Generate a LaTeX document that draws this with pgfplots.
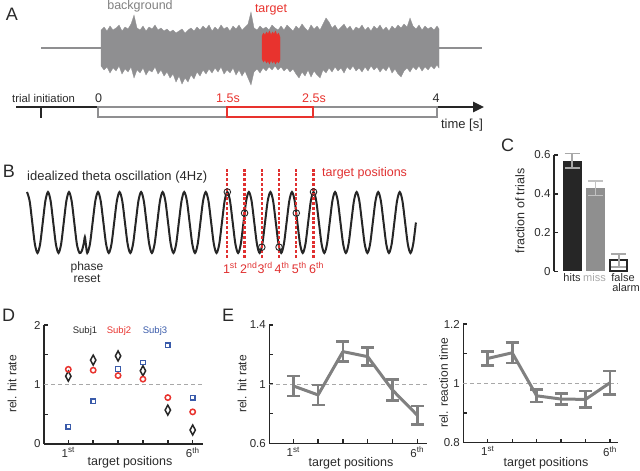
\documentclass[border=0pt]{standalone}
\usepackage{fontspec}
\setmainfont{Liberation Sans}
\usepackage{pgfplots}
\pgfplotsset{compat=1.18}
\usetikzlibrary{arrows.meta}

\definecolor{rd}{HTML}{E8332E}
\definecolor{rdd}{HTML}{E03030}
\definecolor{nz}{HTML}{8F8F91}
\definecolor{bl}{HTML}{3A5BAA}
\definecolor{ln}{HTML}{808080}
\definecolor{dk}{HTML}{262626}
\definecolor{tx}{HTML}{2A2A2A}
\definecolor{lg}{HTML}{A8A8A8}

\newcommand{\fs}[1]{\fontsize{#1}{#1}\selectfont}

\pgfplotsset{
  panel/.style={
    scale only axis, clip=false,
    axis lines*=left,
    axis line style={line width=1.4pt, draw=dk},
    tick align=inside,
    major tick length=4pt,
    tick style={line width=1.4pt, draw=dk},
    ticklabel style={font=\fs{11.5}, text=tx},
    /pgf/number format/assume math mode=true,
  },
  trend/.style={ln, line width=3pt, line join=round,
    error bars/.cd, y dir=both, y explicit, error mark=-,
    error bar style={line width=2.6pt, ln},
    error mark options={rotate=90, mark size=6.5pt, line width=2.6pt, ln}},
  refline/.style={lg, line width=1.1pt, dash pattern=on 4pt off 3pt},
  tpos/.style={rdd, line width=2.2pt, dash pattern=on 3pt off 1.8pt},
}

\begin{document}
\begin{tikzpicture}[x=1pt,y=1pt]
\path[use as bounding box] (0,0) rectangle (640,471);

% canvas in pixel units (y downwards) for panel A and all labels
\begin{axis}[at={(0pt,0pt)}, anchor=south west, scale only axis,
  width=640pt, height=471pt, xmin=0, xmax=640, ymin=0, ymax=471,
  y dir=reverse, hide axis, clip=false]
\addplot[nz, line width=1.2pt] coordinates {(41,48) (482,48)};
% background noise
\addplot[nz, fill=nz, line width=0.3pt] coordinates {
(101,30) (104,27) (107,31) (110,26) (113,30) (116,28) (119,25) (122,31) (125,27) (128,29)
(131,24) (134,15) (137,28) (140,30) (143,26) (146,31) (149,27) (152,29) (155,25) (158,30)
(161,28) (164,31) (167,29) (170,32) (173,30) (176,33) (179,31) (182,29) (185,33) (188,30)
(191,28) (194,31) (197,27) (200,30) (203,26) (206,29) (209,25) (212,31) (215,27) (218,30)
(221,25) (224,29) (227,27) (230,31) (233,26) (236,29) (239,25) (242,30) (245,27) (248,24)
(251,12) (254,28) (257,30) (260,26) (263,29) (266,27) (269,30) (272,25) (275,28) (278,30)
(281,26) (284,30) (287,25) (290,28) (293,31) (296,26) (299,29) (302,24) (305,28) (308,31)
(311,25) (314,29) (317,26) (320,30) (323,24) (326,18) (329,22) (332,28) (335,25) (338,30)
(341,27) (344,24) (347,29) (350,26) (353,31) (356,27) (359,29) (362,25) (365,30) (368,27)
(371,31) (374,26) (377,29) (380,25) (383,30) (386,27) (389,31) (392,26) (395,29) (398,25)
(401,28) (404,24) (407,27) (410,18) (413,26) (416,29) (419,25) (422,30) (425,26) (428,29)
(431,27) (434,30) (437,26) (439,29)
(439,68) (437,65) (434,69) (431,66) (428,70) (425,67) (422,71) (419,66) (416,70) (413,67)
(410,72) (407,68) (404,71) (401,77) (398,74) (395,69) (392,73) (389,66) (386,71) (383,68)
(380,72) (377,67) (374,70) (371,66) (368,71) (365,67) (362,72) (359,68) (356,71) (353,66)
(350,70) (347,67) (344,73) (341,68) (338,71) (335,67) (332,72) (329,68) (326,73) (323,70)
(320,78) (317,75) (314,71) (311,77) (308,70) (305,76) (302,72) (299,78) (296,74) (293,69)
(290,72) (287,68) (284,71) (281,67) (278,70) (275,66) (272,70) (269,67) (266,71) (263,68)
(260,73) (257,69) (254,72) (251,85) (248,78) (245,71) (242,76) (239,70) (236,75) (233,68)
(230,73) (227,70) (224,74) (221,67) (218,72) (215,68) (212,73) (209,69) (206,74) (203,70)
(200,76) (197,72) (194,79) (191,75) (188,82) (185,78) (182,84) (179,76) (176,82) (173,74)
(170,78) (167,72) (164,76) (161,70) (158,74) (155,67) (152,72) (149,70) (146,75) (143,68)
(140,73) (137,70) (134,78) (131,67) (128,72) (125,69) (122,74) (119,66) (116,71) (113,68)
(110,73) (107,67) (104,70) (101,66)
} -- cycle;
% target
\addplot[rd, fill=rd, line width=0.3pt] coordinates {
(262,36) (263.5,33) (265,35) (266.5,32) (268,34) (269.5,31) (271,35) (272.5,32) (274,34)
(275.5,31) (277,35) (278.5,33) (280,37)
(280,60) (278.5,63) (277,61) (275.5,64) (274,61) (272.5,63) (271,60) (269.5,64) (268,61)
(266.5,63) (265,60) (263.5,62) (262,59)
} -- cycle;
% time line
\addplot[dk, line width=2.5pt, -{Triangle[length=11pt,width=10pt]}] coordinates {(16,107) (484,107)};
\addplot[dk, line width=2pt] coordinates {(41,107) (41,118)};
\addplot[nz, line width=2pt] coordinates {(98,107) (437,107) (437,117) (98,117)} -- cycle;
\addplot[rd, line width=2pt] coordinates {(227,107) (313,107) (313,117) (227,117)} -- cycle;

% panel letters
\node[font=\fs{18}, text=tx] at (12,14.5) {A};
\node[font=\fs{18}, text=tx] at (9,171.5) {B};
\node[font=\fs{18}, text=tx] at (507.5,145.5) {C};
\node[font=\fs{18}, text=tx] at (8.5,315) {D};
\node[font=\fs{18}, text=tx] at (228,315) {E};

% A labels
\node[font=\fs{12.5}, text=ln] at (140,6.5) {background};
\node[font=\fs{12.5}, text=rd] at (271,9.5) {target};
\node[font=\fs{11.3}, text=tx, anchor=west, inner sep=0pt] at (12,98) {trial initiation};
\node[font=\fs{12.5}, text=tx] at (98.5,98) {0};
\node[font=\fs{12.5}, text=rd] at (228,98) {1.5s};
\node[font=\fs{12.5}, text=rd] at (314,98) {2.5s};
\node[font=\fs{12.5}, text=tx] at (436,98) {4};
\node[font=\fs{13}, text=tx] at (462,125) {time [s]};

% B labels
\node[font=\fs{13}, text=tx, anchor=west, inner sep=0pt] at (27,177.5) {idealized theta oscillation (4Hz)};
\node[font=\fs{12.5}, text=rdd, anchor=west, inner sep=0pt] at (322,173) {target positions};
\node[font=\fontsize{12}{12}\selectfont, text=tx, align=center] at (87,272) {phase\\reset};
\node[font=\fs{12.5}, text=rdd, anchor=west, inner sep=0pt] at (222.8,268) {1\textsuperscript{st}};
\node[font=\fs{12.5}, text=rdd, anchor=west, inner sep=0pt] at (240.0,268) {2\textsuperscript{nd}};
\node[font=\fs{12.5}, text=rdd, anchor=west, inner sep=0pt] at (257.3,268) {3\textsuperscript{rd}};
\node[font=\fs{12.5}, text=rdd, anchor=west, inner sep=0pt] at (274.5,268) {4\textsuperscript{th}};
\node[font=\fs{12.5}, text=rdd, anchor=west, inner sep=0pt] at (291.7,268) {5\textsuperscript{th}};
\node[font=\fs{12.5}, text=rdd, anchor=west, inner sep=0pt] at (309.0,268) {6\textsuperscript{th}};

% C labels
\node[font=\fs{12.5}, text=tx, rotate=90] at (520,211) {fraction of trials};
\node[font=\fs{11}, text=tx] at (572,278) {hits};
\node[font=\fs{11}, text=lg] at (594.5,278) {miss};
\node[font=\fs{11}, text=tx] at (623,278) {false};
\node[font=\fs{11}, text=tx] at (626,288) {alarm};

% D labels
\node[font=\fs{12}, text=tx, rotate=90] at (12,384) {rel. hit rate};
\node[font=\fs{12.5}, text=tx] at (130,462) {target positions};
\node[font=\fs{9.5}, text=tx] at (85,331.5) {Subj1};
\node[font=\fs{9.5}, text=rd] at (119,331.5) {Subj2};
\node[font=\fs{9.5}, text=bl] at (155,331.5) {Subj3};

% E labels
\node[font=\fs{12}, text=tx, rotate=90] at (242,384) {rel. hit rate};
\node[font=\fs{12.5}, text=tx] at (351,463) {target positions};
\node[font=\fs{12}, text=tx, rotate=90] at (443.5,383) {rel. reaction time};
\node[font=\fs{12.5}, text=tx] at (546,463) {target positions};
\end{axis}

% B: idealized theta oscillation, x in cycles
\begin{axis}[at={(27pt,218pt)}, anchor=south west, scale only axis,
  width=388.9pt, height=61pt, xmin=-3.295, xmax=14.75, ymin=-1, ymax=1,
  hide axis, clip=false]
\addplot[dk, line width=2pt, smooth] coordinates {
(-3.295,1) (-3.173,0.707) (-3.051,0) (-2.930,-0.707) (-2.808,-1) (-2.686,-0.707) (-2.564,0) (-2.442,0.707)
(-2.321,1) (-2.199,0.707) (-2.077,0) (-1.955,-0.707) (-1.833,-1) (-1.712,-0.707) (-1.590,0) (-1.468,0.707)
(-1.346,1) (-1.224,0.707) (-1.102,0) (-0.981,-0.707) (-0.859,-1)
(-0.75,-0.93) (-0.66,-0.68) (-0.61,-0.47) (-0.565,-0.7) (-0.5,-1)
(-0.375,-0.707) (-0.25,0) (-0.125,0.707)
(0,1) (0.125,0.707) (0.25,0) (0.375,-0.707) (0.5,-1) (0.625,-0.707) (0.75,0) (0.875,0.707)
(1,1) (1.125,0.707) (1.25,0) (1.375,-0.707) (1.5,-1) (1.625,-0.707) (1.75,0) (1.875,0.707)
(2,1) (2.125,0.707) (2.25,0) (2.375,-0.707) (2.5,-1) (2.625,-0.707) (2.75,0) (2.875,0.707)
(3,1) (3.125,0.707) (3.25,0) (3.375,-0.707) (3.5,-1) (3.625,-0.707) (3.75,0) (3.875,0.707)
(4,1) (4.125,0.707) (4.25,0) (4.375,-0.707) (4.5,-1) (4.625,-0.707) (4.75,0) (4.875,0.707)
(5,1) (5.125,0.707) (5.25,0) (5.375,-0.707) (5.5,-1) (5.625,-0.707) (5.75,0) (5.875,0.707)
(6,1) (6.125,0.707) (6.25,0) (6.375,-0.707) (6.5,-1) (6.625,-0.707) (6.75,0) (6.875,0.707)
(7,1) (7.125,0.707) (7.25,0) (7.375,-0.707) (7.5,-1) (7.625,-0.707) (7.75,0) (7.875,0.707)
(8,1) (8.125,0.707) (8.25,0) (8.375,-0.707) (8.5,-1) (8.625,-0.707) (8.75,0) (8.875,0.707)
(9,1) (9.125,0.707) (9.25,0) (9.375,-0.707) (9.5,-1) (9.625,-0.707) (9.75,0) (9.875,0.707)
(10,1) (10.125,0.707) (10.25,0) (10.375,-0.707) (10.5,-1) (10.625,-0.707) (10.75,0) (10.875,0.707)
(11,1) (11.125,0.707) (11.25,0) (11.375,-0.707) (11.5,-1) (11.625,-0.707) (11.75,0) (11.875,0.707)
(12,1) (12.125,0.707) (12.25,0) (12.375,-0.707) (12.5,-1) (12.625,-0.707) (12.75,0) (12.875,0.707)
(13,1) (13.125,0.707) (13.25,0) (13.375,-0.707) (13.5,-1) (13.625,-0.707) (13.75,0) (13.875,0.707)
(14,1) (14.125,0.707) (14.25,0) (14.375,-0.707) (14.5,-1) (14.625,-0.707) (14.75,0)
};
\addplot[tpos] coordinates {(6,-1.164) (6,1.787)};
\addplot[tpos] coordinates {(6.8,-1.164) (6.8,1.787)};
\addplot[tpos] coordinates {(7.6,-1.164) (7.6,1.787)};
\addplot[tpos] coordinates {(8.4,-1.164) (8.4,1.787)};
\addplot[tpos] coordinates {(9.2,-1.164) (9.2,1.787)};
\addplot[tpos] coordinates {(10,-1.164) (10,1.787)};
\addplot[only marks, mark=o, mark size=3.3pt, mark options={line width=0.9pt, draw=dk}]
  coordinates {(6,1) (6.8,0.309) (7.6,-0.809) (8.4,-0.809) (9.2,0.309) (10,1)};
\end{axis}

% C: fraction of trials
\begin{axis}[panel, axis x line=none, at={(554pt,199.5pt)}, anchor=south west,
  width=86pt, height=116.5pt, xmin=0.216, xmax=3.92, ymin=0, ymax=0.6,
  ytick={0,0.2,0.4,0.6}, yticklabels={0,0.2,0.4,0.6}]
\addplot[ybar, bar width=19pt, bar shift=0pt, fill=dk, draw=none,
  error bars/.cd, y dir=both, y explicit, error mark=-,
  error bar style={line width=1.8pt, color=lg},
  error mark options={rotate=90, mark size=7.5pt, line width=1.8pt, color=lg}]
  coordinates {(1,0.571) +- (0,0.037)};
\addplot[ybar, bar width=19pt, bar shift=0pt, fill=lg!85!black, draw=none,
  error bars/.cd, y dir=both, y explicit, error mark=-,
  error bar style={line width=1.8pt, color=lg!70!white},
  error mark options={rotate=90, mark size=7.5pt, line width=1.8pt, color=lg!70!white}]
  coordinates {(2,0.428) +- (0,0.037)};
\addplot[ybar, bar width=17pt, bar shift=0pt, fill=white, draw=dk, line width=2pt,
  error bars/.cd, y dir=both, y explicit, error mark=-,
  error bar style={line width=1.8pt, color=lg},
  error mark options={rotate=90, mark size=7.5pt, line width=1.8pt, color=lg}]
  coordinates {(3,0.058) +- (0,0.033)};
\end{axis}

% D: single subjects
\begin{axis}[panel, at={(44pt,27pt)}, anchor=south west,
  width=159pt, height=119pt, xmin=0.023, xmax=6.414, ymin=0, ymax=2,
  xtick={1,2,3,4,5,6}, xticklabels={1\textsuperscript{st},,,,,6\textsuperscript{th}},
  ytick={0,0.5,1,1.5,2}, yticklabels={0,,1,,2}]
\addplot[refline] coordinates {(0.023,1) (6.414,1)};
\addplot[only marks, mark=diamond, mark size=5pt,
  mark options={xscale=0.72, line width=1.5pt, draw=dk, fill=none}]
  coordinates {(1,1.14) (2,1.41) (3,1.48) (4,1.23) (5,0.57) (6,0.235)};
\addplot[only marks, mark=o, mark size=2.7pt,
  mark options={line width=1.5pt, draw=rd, fill=none}]
  coordinates {(1,1.255) (2,1.24) (3,1.15) (4,1.09) (5,0.78) (6,0.54)};
\addplot[only marks, mark=square, mark size=2.3pt,
  mark options={line width=1.3pt, draw=bl, fill=none}]
  coordinates {(1,0.29) (2,0.72) (3,1.26) (4,1.37) (5,1.66) (6,0.78)};
\end{axis}

% E left: relative hit rate
\begin{axis}[panel, at={(269.3pt,27.7pt)}, anchor=south west,
  width=157.4pt, height=118.3pt, xmin=0.032, xmax=6.38, ymin=0.6, ymax=1.4,
  xtick={1,2,3,4,5,6}, xticklabels={1\textsuperscript{st},,,,,6\textsuperscript{th}},
  ytick={0.6,0.8,1,1.2,1.4}, yticklabels={0.6,,1,,1.4}]
\addplot[refline] coordinates {(0.032,1) (6.38,1)};
\addplot[trend] coordinates {
  (1,0.988) +- (0,0.068) (2,0.927) +- (0,0.068) (3,1.22) +- (0,0.068)
  (4,1.186) +- (0,0.06) (5,0.96) +- (0,0.07) (6,0.79) +- (0,0.062)};
\end{axis}

% E right: relative reaction time
\begin{axis}[panel, at={(463.3pt,28.3pt)}, anchor=south west,
  width=155pt, height=118.7pt, xmin=0.0, xmax=6.34, ymin=0.8, ymax=1.2,
  xtick={1,2,3,4,5,6}, xticklabels={1\textsuperscript{st},,,,,6\textsuperscript{th}},
  ytick={0.8,0.9,1,1.1,1.2}, yticklabels={0.8,,1,,1.2}]
\addplot[refline] coordinates {(0,1) (6.34,1)};
\addplot[trend] coordinates {
  (1,1.084) +- (0,0.024) (2,1.103) +- (0,0.035) (3,0.958) +- (0,0.021)
  (4,0.947) +- (0,0.018) (5,0.946) +- (0,0.028) (6,1.002) +- (0,0.039)};
\end{axis}
\end{tikzpicture}
\end{document}
